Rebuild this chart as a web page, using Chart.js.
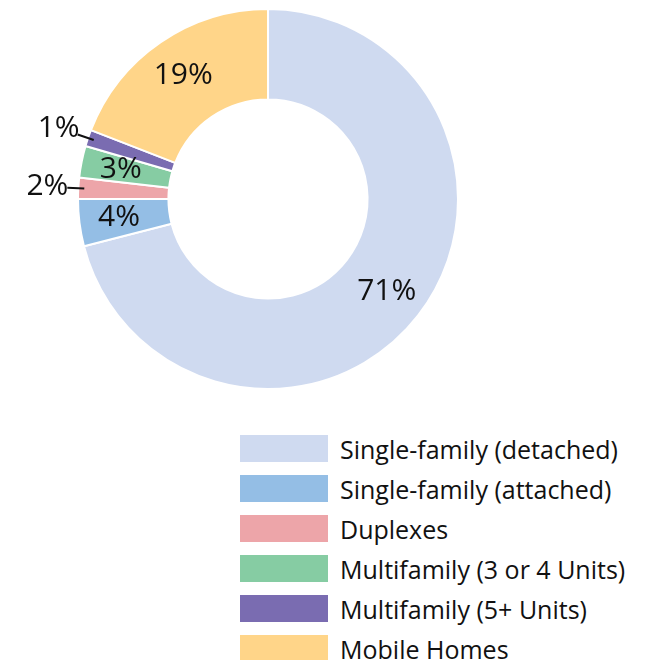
<!DOCTYPE html>
<html>
<head>
<meta charset="utf-8">
<script src="https://cdn.jsdelivr.net/npm/chart.js@4"></script>
<style>
  body { margin: 0; background: #fff; font-family: 'Open Sans', sans-serif; }
  #wrap { position: relative; width: 653px; height: 660px; }
  #chart-box { position: absolute; left: 0; top: 0; width: 653px; height: 400px; }
  #legend { position: absolute; left: 240px; top: 435px; margin: 0; padding: 0; list-style: none; }
  #legend li { display: flex; align-items: center; height: 27px; margin-bottom: 13px; font-size: 25px; color: #111; white-space: nowrap; }
  #legend span.box { display: inline-block; flex: none; width: 88px; height: 27px; margin-right: 12px; }
</style>
</head>
<body>
<div id="wrap">
  <div id="chart-box"><canvas id="housing-chart"></canvas></div>
  <ul id="legend"></ul>
</div>
<script>
// Housing type share
let housingTypes = ['Single-family (detached)', 'Single-family (attached)', 'Duplexes', 'Multifamily (3 or 4 Units)', 'Multifamily (5+ Units)', 'Mobile Homes'];
let housingShares = [71.0, 4.0, 1.8, 2.7, 1.4, 19.1];
let housingColors = ['#cfdaf0', '#94bee5', '#eda5a9', '#86cca3', '#7a6cb1', '#ffd589'];

// labels for slices this small go outside with a leader line
const smallSlice = 2.5;

const sliceLabels = {
    id: 'sliceLabels',
    afterDatasetsDraw(chart) {
        const ctx = chart.ctx;
        const meta = chart.getDatasetMeta(0);
        const total = housingShares.reduce((a, b) => a + b, 0);
        ctx.save();
        ctx.font = '30px "Open Sans", sans-serif';
        ctx.fillStyle = '#111';
        ctx.textAlign = 'center';
        ctx.textBaseline = 'middle';
        meta.data.forEach(function (arc, i) {
            let p = arc.getProps(['x', 'y', 'startAngle', 'endAngle', 'innerRadius', 'outerRadius'], true);
            let mid = (p.startAngle + p.endAngle) / 2;
            let text = Math.round(housingShares[i] / total * 100) + '%';
            let r = p.innerRadius + (p.outerRadius - p.innerRadius) * 0.56;
            if (housingShares[i] < smallSlice) {
                let r1 = p.outerRadius - 6, r2 = p.outerRadius + 11;
                ctx.strokeStyle = '#111';
                ctx.lineWidth = 2;
                ctx.beginPath();
                ctx.moveTo(p.x + Math.cos(mid) * r1, p.y + Math.sin(mid) * r1);
                ctx.lineTo(p.x + Math.cos(mid) * r2, p.y + Math.sin(mid) * r2);
                ctx.stroke();
                r = p.outerRadius + 31;
            }
            ctx.fillText(text, p.x + Math.cos(mid) * r, p.y + Math.sin(mid) * r);
        });
        ctx.restore();
    }
};

const housingCtx = document.getElementById('housing-chart').getContext('2d');
const housingChart = new Chart(housingCtx, {
    type: 'doughnut',
    data: {
        labels: housingTypes,
        datasets: [{
            data: housingShares,
            backgroundColor: housingColors,
            borderColor: '#ffffff',
            borderWidth: 2
        }]
    },
    options: {
        responsive: true,
        maintainAspectRatio: false,
        animation: false,
        cutout: '52.4%',
        layout: {
            padding: {
                top: 8,
                right: 194,
                bottom: 10,
                left: 77
            }
        },
        plugins: {
            legend: { display: false },
            tooltip: { enabled: false }
        }
    },
    plugins: [sliceLabels]
});

// legend
let legendList = document.getElementById('legend');
housingTypes.forEach(function (name, i) {
    let li = document.createElement('li');
    li.innerHTML = '<span class="box" style="background:' + housingColors[i] + '"></span>' + name;
    legendList.appendChild(li);
});
</script>
</body>
</html>
